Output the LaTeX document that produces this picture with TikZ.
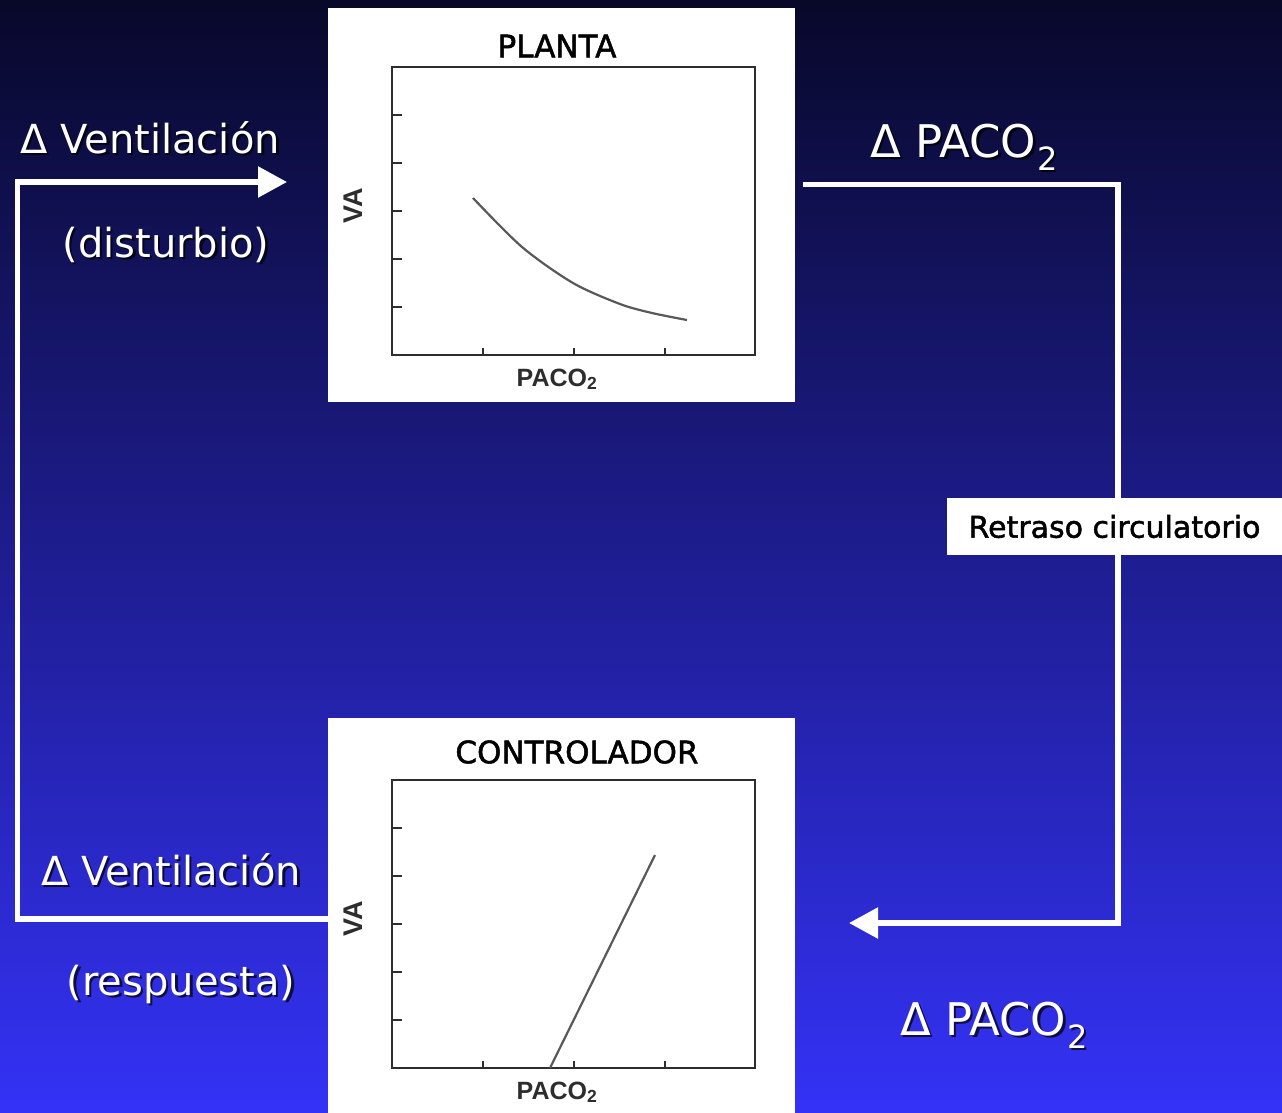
\documentclass[tikz,border=0pt]{standalone}
\usepackage{fontspec}
\setmainfont{DejaVu Sans}
\newfontfamily\plotfont{Liberation Sans}
\newfontfamily\heavyfont[FakeBold=1.6]{DejaVu Sans}
\usetikzlibrary{positioning,arrows.meta}

\definecolor{skytop}{RGB}{8,8,42}
\definecolor{skymid}{RGB}{34,34,165}
\definecolor{skybot}{RGB}{52,50,246}
\definecolor{axisgray}{RGB}{45,45,45}

\tikzset{
  panel/.style={fill=white,draw=none,inner sep=0pt,minimum width=467pt},
  wire/.style={white,line width=5.5pt,line join=miter},
  tip/.style={-{Triangle[length=29pt,width=30pt]}},
  bigtxt/.style={text=white,inner sep=0pt,font=\fontsize{40}{48}\selectfont},
  pacotxt/.style={text=white,inner sep=0pt,anchor=base west,font=\fontsize{45}{52}\selectfont},
  title/.style={inner sep=0pt,text=black,font=\heavyfont\fontsize{31}{36}\selectfont},
  axis/.style={draw=axisgray,line width=2.5pt},
  curve/.style={draw=black!65,line width=2.2pt},
  axlbl/.style={inner sep=0pt,text=axisgray,font=\plotfont\bfseries\fontsize{25}{30}\selectfont}
}

\begin{document}
\begin{tikzpicture}[x=1pt,y=-1pt]
\useasboundingbox (0,0) rectangle (1282,1112);
\shade[top color=skytop,middle color=skymid,bottom color=skybot] (0,0) rectangle (1282,1112);

\def\axes#1{
\draw[axis] (0,0) rectangle (363,288);
\foreach \t in {48,96,...,240}
	\draw[axis] (0,\t)--(10,\t);
\foreach \t in {91,182,273}
	\draw[axis] (\t,0)--(\t,7);
\node[axlbl,rotate=90,font=\plotfont\bfseries\fontsize{27}{30}\selectfont] (#1va) at (-39,149) {VA};
\node[axlbl,anchor=base] (#1paco) at (165,-31) {PACO\textsubscript{2}};
}

% planta y controlador
\node[panel,minimum height=394pt] (planta) at (561.5,205) {};
\node[panel,minimum height=402pt] (ctrl) at (561.5,919) {};
\node[title] (plantatitle) at (557,46) {PLANTA};
\node[title] (ctrltitle) at (577,752) {CONTROLADOR};

\begin{scope}[shift={(392,355)},yscale=-1]
\axes{p}
\draw[curve] plot[smooth] coordinates {(81,157) (130,108) (181,72) (228,51) (260,42) (295,35)};
\end{scope}
\begin{scope}[shift={(392,1068)},yscale=-1]
\axes{c}
\draw[curve] (158,0)--(263,213);
\end{scope}

% lazo
\coordinate (loopL) at (17.5,182);
\coordinate (distin) at (287,182);
\coordinate (pout) at (803,184.5);
\coordinate (loopR) at (1118,184.5);
\coordinate (ctrlin) at (849,923);
\draw[wire,tip] (ctrl.west) -| (loopL) -- (distin);
\draw[wire,tip] (pout) -- (loopR) |- (ctrlin);

\node[fill=white,minimum width=335pt,minimum height=57pt,inner sep=0pt,font=\heavyfont\fontsize{30}{36}\selectfont] (retraso) at (1114.5,526.5) {Retraso circulatorio};

\foreach \nm/\x/\y/\txt in {vtop/150/153/{Δ Ventilación},dist/166/257/{(disturbio)},vbot/171/885/{Δ Ventilación},resp/181/995/{(respuesta)}}{
	\node[bigtxt,anchor=base,text=black,opacity=0.7] (\nm-sh) at (\x+2.5,\y+2.5) {\txt};
	\node[bigtxt,anchor=base] (\nm) at (\x,\y) {\txt};
}
\foreach \nm/\x/\y in {pacotop/870/157,pacobot/900/1035}{
	\node[pacotxt,text=black,opacity=0.7] (\nm-sh) at (\x+2.5,\y+2.5) {Δ PACO\kern1pt\raisebox{-13pt}{\fontsize{32}{32}\selectfont 2}};
	\node[pacotxt] (\nm) at (\x,\y) {Δ PACO\kern1pt\raisebox{-13pt}{\fontsize{32}{32}\selectfont 2}};
}

\end{tikzpicture}
\end{document}
